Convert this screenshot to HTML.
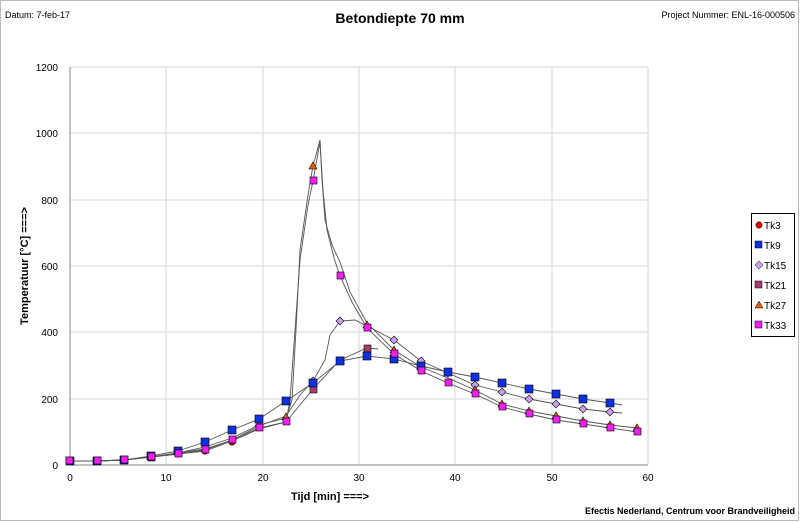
<!DOCTYPE html>
<html><head><meta charset="utf-8"><style>
body{margin:0;background:#fff;}
svg{display:block;font-family:"Liberation Sans",sans-serif;}
</style></head><body>
<svg width="800" height="522" viewBox="0 0 800 522">
<rect x="0.5" y="0.5" width="798" height="520" fill="#fff" stroke="#bbb"/>
<text x="5" y="18" font-size="9">Datum: 7-feb-17</text>
<text x="400" y="23" font-size="14" font-weight="bold" text-anchor="middle">Betondiepte 70  mm</text>
<text x="795" y="18" font-size="9" text-anchor="end">Project Nummer: ENL-16-000506</text>
<text x="795" y="514" font-size="9" font-weight="bold" text-anchor="end">Efectis Nederland, Centrum voor Brandveiligheid</text>
<g stroke="#ddd" stroke-width="1.2">
<line x1="70" y1="67" x2="648" y2="67"/><line x1="70" y1="133" x2="648" y2="133"/><line x1="70" y1="200" x2="648" y2="200"/><line x1="70" y1="266" x2="648" y2="266"/><line x1="70" y1="332" x2="648" y2="332"/><line x1="70" y1="399" x2="648" y2="399"/>
<line x1="166" y1="67" x2="166" y2="465"/><line x1="263" y1="67" x2="263" y2="465"/><line x1="359" y1="67" x2="359" y2="465"/><line x1="455" y1="67" x2="455" y2="465"/><line x1="552" y1="67" x2="552" y2="465"/><line x1="648" y1="67" x2="648" y2="465"/>
</g>
<line x1="70" y1="67" x2="70" y2="465" stroke="#888"/><line x1="70" y1="465" x2="648" y2="465" stroke="#888"/>
<g font-size="10" text-anchor="end">
<text x="58" y="469">0</text><text x="58" y="403">200</text><text x="58" y="336">400</text><text x="58" y="270">600</text><text x="58" y="204">800</text><text x="58" y="137">1000</text><text x="58" y="71">1200</text></g>
<g font-size="10" text-anchor="middle">
<text x="70" y="481">0</text><text x="166" y="481">10</text><text x="263" y="481">20</text><text x="359" y="481">30</text><text x="455" y="481">40</text><text x="552" y="481">50</text><text x="648" y="481">60</text></g>
<text x="330" y="500" font-size="11" font-weight="bold" text-anchor="middle">Tijd [min] ===&gt;</text>
<text transform="translate(28,266) rotate(-90)" font-size="11" font-weight="bold" text-anchor="middle">Temperatuur [°C] ===&gt;</text>
<g fill="none" stroke="#555" stroke-width="0.9">
<polyline points="70,461 97,461 124,460 151,456 178,451 205,442 232,430 259,419 286,401 313,383 340,361 367,356 394,359 421,366 448,372 475,377 502,383 529,389 556,394 583,399 610,403 622,405"/>
<polyline points="70,461 97,461 124,460 151,457 178,453 205,449 232,440 259,426 286,416 300,395 313,381 325,360 330,335 340,321 355,320 367,326 394,340 421,361 448,373 475,385 502,392 529,399 556,404 583,409 610,412 622,413"/>
<polyline points="70,461 97,461 124,460 151,457 178,453 205,447 232,438 259,425 286,418 292,400 296,330 300,250 308,195 313,166 320,140 322,180 325,220 332,245 340,262 350,292 367,323 394,350 421,367 448,378 475,390 502,404 529,411 556,416 583,421 610,425 637,428"/>
<polyline points="70,461 97,461 124,460 151,457 178,454 205,450 232,440 259,428 286,422 290,400 295,330 300,260 308,205 313,181 320,142 323,190 327,230 334,258 340,276 352,302 367,328 394,354 421,371 448,383 475,394 502,407 529,414 556,420 583,424 610,428 637,432"/>
<polyline points="70,461 97,461 124,460 151,457 178,454 205,451 232,441 259,429 286,422 313,389 340,360 367,348 378,349"/>
</g>
<g stroke="#000" stroke-width="0.6">
<g fill="#d00"><circle cx="70" cy="461" r="3.2"/><circle cx="97" cy="461" r="3.2"/><circle cx="124" cy="460" r="3.2"/><circle cx="151" cy="457" r="3.2"/><circle cx="178" cy="454" r="3.2"/><circle cx="205" cy="451" r="3.2"/><circle cx="232" cy="442" r="3.2"/></g>
<g fill="#a04070"><rect x="310" y="386" width="7" height="7"/><rect x="337" y="357" width="7" height="7"/><rect x="364" y="345" width="7" height="7"/><rect x="148" y="454" width="7" height="7"/></g>
<g fill="#c8a0f0"><path d="M313,377l4,4l-4,4l-4,-4z"/><path d="M340,317l4,4l-4,4l-4,-4z"/><path d="M394,336l4,4l-4,4l-4,-4z"/><path d="M421,357l4,4l-4,4l-4,-4z"/><path d="M448,369l4,4l-4,4l-4,-4z"/><path d="M475,381l4,4l-4,4l-4,-4z"/><path d="M502,388l4,4l-4,4l-4,-4z"/><path d="M529,395l4,4l-4,4l-4,-4z"/><path d="M556,400l4,4l-4,4l-4,-4z"/><path d="M583,405l4,4l-4,4l-4,-4z"/><path d="M610,408l4,4l-4,4l-4,-4z"/><path d="M259,422l4,4l-4,4l-4,-4z"/></g>
<g fill="#e06000"><path d="M313,162l4,7h-8z"/><path d="M367,321l4,7h-8z"/><path d="M394,346l4,7h-8z"/><path d="M475,386l4,7h-8z"/><path d="M502,400l4,7h-8z"/><path d="M529,407l4,7h-8z"/><path d="M556,412l4,7h-8z"/><path d="M583,417l4,7h-8z"/><path d="M610,421l4,7h-8z"/><path d="M637,424l4,7h-8z"/><path d="M286,413l4,7h-8z"/></g>
<g fill="#1030e0"><rect x="66" y="457" width="8" height="8"/><rect x="93" y="457" width="8" height="8"/><rect x="120" y="456" width="8" height="8"/><rect x="147" y="452" width="8" height="8"/><rect x="174" y="447" width="8" height="8"/><rect x="201" y="438" width="8" height="8"/><rect x="228" y="426" width="8" height="8"/><rect x="255" y="415" width="8" height="8"/><rect x="282" y="397" width="8" height="8"/><rect x="309" y="379" width="8" height="8"/><rect x="336" y="357" width="8" height="8"/><rect x="363" y="352" width="8" height="8"/><rect x="390" y="355" width="8" height="8"/><rect x="417" y="362" width="8" height="8"/><rect x="444" y="368" width="8" height="8"/><rect x="471" y="373" width="8" height="8"/><rect x="498" y="379" width="8" height="8"/><rect x="525" y="385" width="8" height="8"/><rect x="552" y="390" width="8" height="8"/><rect x="579" y="395" width="8" height="8"/><rect x="606" y="399" width="8" height="8"/></g>
<g fill="#f020f0"><rect x="66" y="457" width="7" height="7"/><rect x="94" y="457" width="7" height="7"/><rect x="121" y="456" width="7" height="7"/><rect x="148" y="453" width="7" height="7"/><rect x="175" y="450" width="7" height="7"/><rect x="202" y="446" width="7" height="7"/><rect x="229" y="436" width="7" height="7"/><rect x="256" y="424" width="7" height="7"/><rect x="283" y="418" width="7" height="7"/><rect x="310" y="177" width="7" height="7"/><rect x="337" y="272" width="7" height="7"/><rect x="364" y="324" width="7" height="7"/><rect x="391" y="350" width="7" height="7"/><rect x="418" y="367" width="7" height="7"/><rect x="445" y="379" width="7" height="7"/><rect x="472" y="390" width="7" height="7"/><rect x="499" y="403" width="7" height="7"/><rect x="526" y="410" width="7" height="7"/><rect x="553" y="416" width="7" height="7"/><rect x="580" y="420" width="7" height="7"/><rect x="607" y="424" width="7" height="7"/><rect x="634" y="428" width="7" height="7"/></g>
</g>
<rect x="751.5" y="213.5" width="43" height="123" fill="#fff" stroke="#000"/>
<g font-size="10">
<circle cx="759" cy="225" r="3.2" fill="#d00" stroke="#000" stroke-width="0.5"/><text x="764" y="229">Tk3</text>
<rect x="755" y="241" width="7" height="7" fill="#1030e0" stroke="#000" stroke-width="0.5"/><text x="764" y="249">Tk9</text>
<path d="M759,261l4,4l-4,4l-4,-4z" fill="#c8a0f0" stroke="#000" stroke-width="0.5"/><text x="764" y="269">Tk15</text>
<rect x="755" y="281" width="7" height="7" fill="#a04070" stroke="#000" stroke-width="0.5"/><text x="764" y="289">Tk21</text>
<path d="M759,301l4,7h-8z" fill="#e06000" stroke="#000" stroke-width="0.5"/><text x="764" y="309">Tk27</text>
<rect x="755" y="321" width="7" height="7" fill="#f020f0" stroke="#000" stroke-width="0.5"/><text x="764" y="329">Tk33</text>
</g>
</svg>
</body></html>
